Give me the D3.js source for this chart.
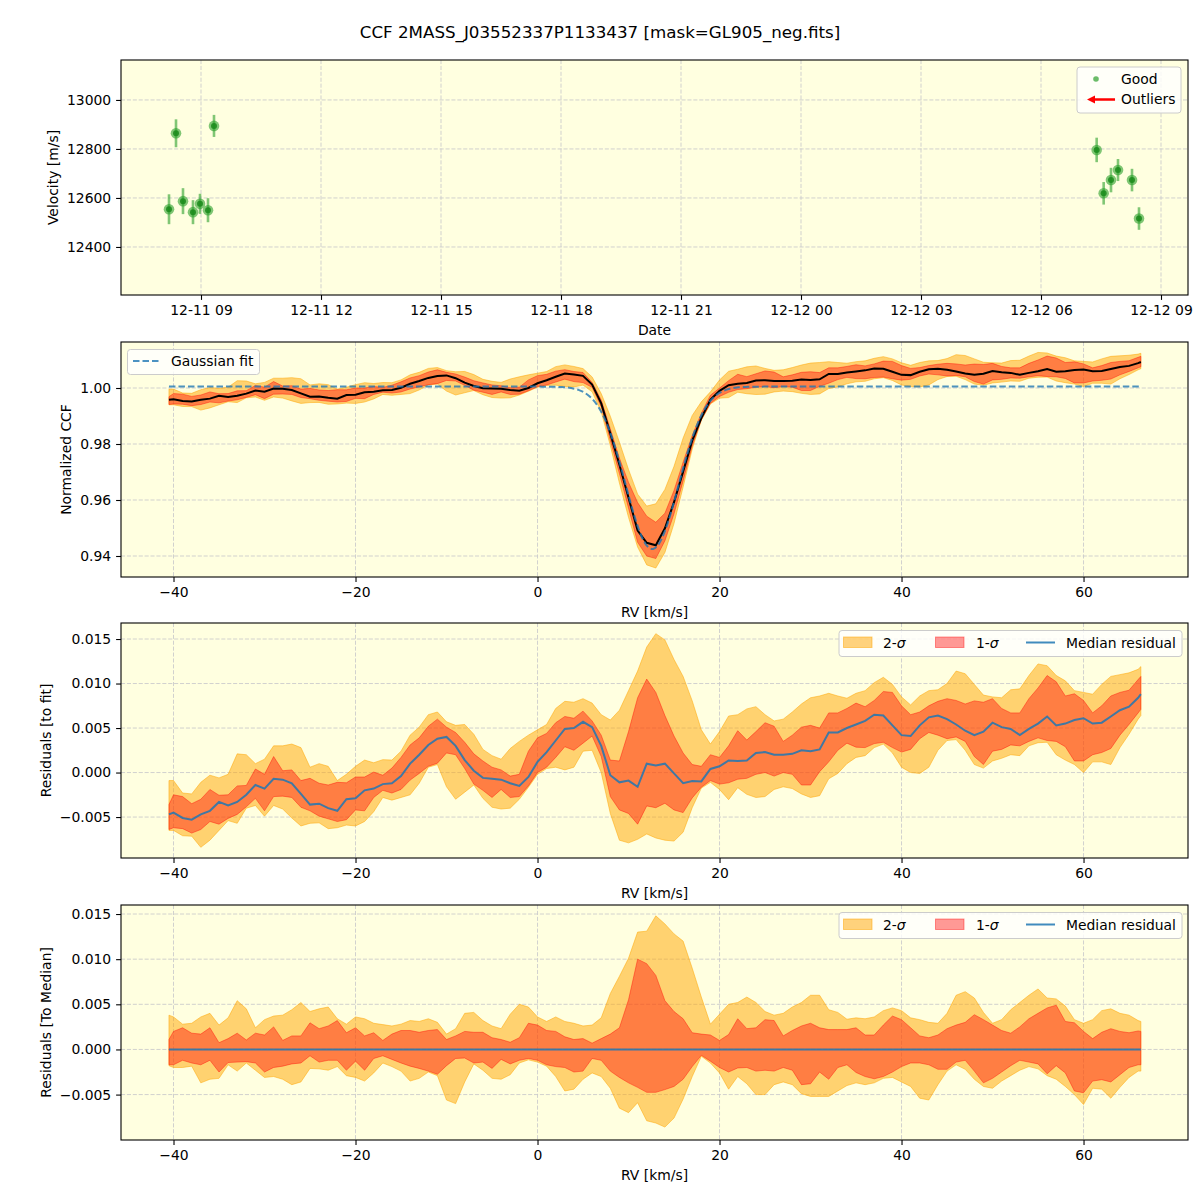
<!DOCTYPE html>
<html><head><meta charset="utf-8">
<script src="https://cdn.jsdelivr.net/npm/d3@7"></script>
<style>body{margin:0;background:#fff}svg text{font-family:"DejaVu Sans",Verdana,sans-serif}</style>
</head><body>
<svg id="c" width="1200" height="1200"></svg>
<script>
// ---------- DATA ----------
const chartTitle = "CCF 2MASS_J03552337P1133437 [mask=GL905_neg.fits]";
const obsTimes = ["2019-12-11 08:12","2019-12-11 08:22:30","2019-12-11 08:33","2019-12-11 08:48","2019-12-11 08:58:30","2019-12-11 09:10:30","2019-12-11 09:19:30",
                  "2019-12-12 07:23:30","2019-12-12 07:34","2019-12-12 07:45","2019-12-12 07:55:30","2019-12-12 08:16:30","2019-12-12 08:27"];
const obsVel = [12554,12864,12587,12542,12576,12550,12894,12796,12619,12673,12714,12673,12516];
const obsErr = [61,57,53,49,41,49,45,50,46,50,45,46,46];
const dateTickLabels = ["2019-12-11 09","2019-12-11 12","2019-12-11 15","2019-12-11 18","2019-12-11 21","2019-12-12 00","2019-12-12 03","2019-12-12 06","2019-12-12 09"];
const velTicks = [12400,12600,12800,13000];

const rv = [-40.5,-40,-39,-38,-37,-36,-35,-34,-33,-32,-31,-30,-29,-28,-27,-26,-25,-24,-23,-22,-21,-20,-19,-18,-17,-16,-15,-14,-13,-12,-11,-10,-9,-8,-7,-6,-5,-4,-3,-2,-1,0,1,2,3,4,5,6,7,8,9,10,11,12,13,14,15,16,17,18,19,20,21,22,23,24,25,26,27,28,29,30,31,32,33,34,35,36,37,38,39,40,41,42,43,44,45,46,47,48,49,50,51,52,53,54,55,56,57,58,59,60,61,62,63,64,65,66,66.3];
// median residual to the Gaussian fit (units of 1e-3)
const medResid = [-4.7,-4.5,-5.1,-5.3,-4.7,-4.3,-3.3,-3.7,-3.3,-2.5,-1.4,-1.8,-0.7,-0.8,-1.2,-2.4,-3.6,-3.5,-4.0,-4.3,-3.0,-2.9,-2.0,-1.8,-1.3,-1.2,-0.4,1.0,2.0,3.1,3.8,4.0,3.0,1.4,0.2,-0.6,-0.7,-0.8,-1.2,-1.5,-0.5,1.2,2.3,3.6,4.9,5.0,5.7,5.1,3.0,-0.3,-1.1,-0.9,-1.6,1.0,0.8,1.0,-0.1,-1.2,-0.95,-1.0,0.4,0.7,1.35,1.3,1.35,2.2,2.3,2.0,2.0,2.1,2.5,2.4,2.6,4.5,4.5,5.0,5.4,5.8,6.5,6.4,5.3,4.2,4.1,5.3,6.2,6.4,6.0,5.4,4.7,4.2,4.6,5.6,5.1,4.9,4.2,4.9,5.5,6.3,5.3,5.5,5.9,6.1,5.5,5.6,6.3,7.0,7.4,8.4,8.8];
// percentile bands relative to the median (units of 1e-3)
const hi2 = [3.8,3.6,2.8,2.9,3.6,4.0,2.7,3.5,5.4,4.5,2.4,3.3,3.7,3.8,4.4,5.2,4.2,4.5,4.7,3.4,2.8,3.6,3.4,2.9,2.75,2.6,2.8,3.2,3.1,3.4,3.0,1.7,2.3,4.0,4.1,3.2,2.6,2.3,3.9,5.0,4.7,3.6,3.1,3.6,3.1,2.9,2.6,2.7,3.5,6.2,8.1,10.1,13.0,13.1,14.8,13.9,12.8,12.0,9.0,5.8,2.8,3.9,5.0,5.2,5.8,5.2,4.2,3.8,4.0,4.7,5.2,6.0,6.0,4.4,4.1,3.35,3.5,3.4,3.6,4.3,4.6,4.3,3.5,3.3,3.0,2.9,4.0,6.0,6.4,5.7,4.1,2.9,3.3,4.4,5.2,6.0,6.7,5.7,5.6,4.8,3.3,2.9,3.3,4.3,4.5,4.0,3.8,3.2,3.1];
const hi1 = [1.1,2.0,2.4,1.8,1.7,2.4,0.75,1.2,1.8,1.05,1.8,1.6,2.5,1.0,1.5,1.5,2.95,2.3,2.6,3.2,1.85,2.4,1.5,1.85,1.0,1.7,2.1,2.1,1.9,2.1,2.2,1.1,1.5,2.0,1.9,1.9,1.3,1.1,0.8,1.3,2.9,2.7,2.1,2.0,1.4,1.1,1.2,0.7,1.2,1.7,2.4,5.5,10.0,9.5,8.2,5.4,4.2,3.4,1.85,1.7,1.6,1.0,1.65,3.4,2.3,2.4,3.3,3.2,1.5,2.1,2.6,2.9,2.4,2.2,2.2,2.2,2.4,1.6,1.6,2.7,3.7,3.3,2.4,1.5,1.3,1.6,2.3,2.7,3.0,3.85,3.3,2.7,2.1,1.8,2.5,3.4,4.0,4.6,4.9,3.1,2.95,2.0,1.2,1.9,2.3,2.0,1.85,2.05,2.0];
const lo1 = [-1.7,-1.7,-1.2,-1.5,-1.7,-1.2,-2.5,-1.45,-1.4,-1.35,-1.5,-2.5,-2.0,-1.85,-1.6,-1.5,-0.7,-1.4,-1.2,-1.2,-2.3,-1.3,-2.3,-1.0,-0.7,-1.1,-1.5,-1.85,-2.1,-2.4,-2.75,-1.8,-1.0,-0.95,-1.5,-1.4,-2.1,-1.1,-1.6,-1.2,-1.0,-1.2,-1.7,-1.9,-2.0,-2.5,-2.4,-1.0,-1.2,-2.4,-3.1,-3.7,-4.2,-4.75,-4.75,-4.45,-4.1,-3.3,-1.9,-0.65,-1.3,-2.0,-2.5,-2.05,-2.0,-2.4,-2.3,-2.4,-2.0,-2.3,-3.9,-3.8,-2.5,-3.3,-2.0,-1.7,-2.55,-3.0,-3.25,-3.0,-2.5,-1.9,-1.5,-1.5,-1.7,-2.2,-2.2,-1.4,-1.2,-2.4,-3.7,-3.2,-2.5,-1.8,-1.2,-1.4,-1.6,-2.7,-1.8,-2.6,-4.6,-4.8,-3.5,-3.35,-3.6,-2.8,-2.0,-1.7,-1.7];
const lo2 = [-1.8,-2.0,-2.0,-1.85,-3.7,-3.3,-3.2,-1.7,-2.4,-1.5,-2.3,-3.1,-3.0,-3.3,-3.9,-3.6,-2.1,-2.15,-2.3,-1.9,-2.9,-3.1,-3.5,-2.6,-1.5,-1.9,-2.4,-3.5,-3.2,-2.5,-2.9,-5.6,-6.0,-3.6,-1.6,-2.3,-3.2,-3.3,-2.8,-1.5,-1.15,-1.4,-1.85,-3.0,-4.6,-4.4,-3.3,-2.6,-3.0,-4.3,-6.5,-7.0,-5.9,-7.9,-8.15,-8.6,-7.6,-5.5,-3.0,-0.75,-1.5,-2.6,-4.4,-3.0,-3.8,-5.0,-5.0,-3.9,-3.6,-3.9,-4.9,-5.2,-5.2,-5.2,-4.6,-4.0,-3.7,-3.9,-3.7,-3.2,-3.1,-3.6,-4.1,-5.4,-5.6,-3.9,-2.4,-1.7,-2.2,-3.3,-4.1,-4.3,-3.5,-2.9,-2.3,-1.9,-2.15,-2.9,-3.3,-4.1,-5.0,-6.1,-4.3,-4.4,-5.4,-4.2,-3.1,-2.4,-2.4];
// Gaussian fit parameters
const fitBaseline = 1.0005, fitDepth = 0.058, fitCenter = 12.6, fitSigma = 2.9;
const rvTicks = [-40,-20,0,20,40,60];
const ccfTicks = [0.94,0.96,0.98,1.00];
const residTicks = [-0.005,0,0.005,0.010,0.015];

// ---------- LAYOUT ----------
const svg = d3.select("#c");
const L = 121, R = 1188;
const BG = "#ffffe0";
const FS = 13.9;
const TICK = 4.9;
svg.append("rect").attr("width",1200).attr("height",1200).attr("fill","#fff");
svg.append("text").attr("x",600).attr("y",38).attr("text-anchor","middle").attr("font-size",16.7).text(chartTitle);

function gauss(v){ return fitBaseline - fitDepth*Math.exp(-((v-fitCenter)**2)/(2*fitSigma*fitSigma)); }

function panelBase(id, top, bottom, x, y, xTicks, yTicks, xFmt, yFmt, xLabel, yLabel, yLabelX){
  const g = svg.append("g");
  g.append("rect").attr("x",L).attr("y",top).attr("width",R-L).attr("height",bottom-top).attr("fill",BG);
  g.append("clipPath").attr("id","clip"+id).append("rect").attr("x",L).attr("y",top).attr("width",R-L).attr("height",bottom-top);
  const grid = g.append("g").attr("stroke","#cccccc").attr("stroke-width",0.9).attr("stroke-dasharray","4.1,1.8");
  xTicks.forEach(t=>grid.append("line").attr("x1",x(t)).attr("x2",x(t)).attr("y1",top).attr("y2",bottom));
  yTicks.forEach(t=>grid.append("line").attr("x1",L).attr("x2",R).attr("y1",y(t)).attr("y2",y(t)));
  const content = g.append("g").attr("clip-path","url(#clip"+id+")");
  const ax = g.append("g").attr("transform",`translate(0,${bottom})`)
    .call(d3.axisBottom(x).tickValues(xTicks).tickFormat(xFmt).tickSize(TICK).tickPadding(4.9));
  const ay = g.append("g").attr("transform",`translate(${L},0)`)
    .call(d3.axisLeft(y).tickValues(yTicks).tickFormat(yFmt).tickSize(TICK).tickPadding(4.9));
  [ax,ay].forEach(a=>{a.select(".domain").remove();a.attr("font-size",FS).attr("font-family",null);
    a.selectAll("line").attr("stroke","#000").attr("stroke-width",1.1);a.selectAll("text").attr("fill","#000");});
  g.append("text").attr("x",(L+R)/2).attr("y",bottom+40).attr("text-anchor","middle").attr("font-size",FS).text(xLabel);
  g.append("text").attr("transform",`translate(${yLabelX},${(top+bottom)/2}) rotate(-90)`).attr("dy","0.35em")
    .attr("text-anchor","middle").attr("font-size",FS).text(yLabel);
  return {g, content, frame:()=>g.append("rect").attr("x",L).attr("y",top).attr("width",R-L).attr("height",bottom-top)
    .attr("fill","none").attr("stroke","#000").attr("stroke-width",1.1)};
}

function legendBox(g,x,y,w,h){
  g.append("rect").attr("x",x).attr("y",y).attr("width",w).attr("height",h).attr("rx",3)
   .attr("fill","#fff").attr("fill-opacity",0.8).attr("stroke","#cccccc").attr("stroke-width",1);
}

// ---------- PANEL 1 ----------
(function(){
  const parse = d3.timeParse("%Y-%m-%d %H:%M");
  const parse2 = d3.timeParse("%Y-%m-%d %H:%M:%S");
  const tp = s => parse(s) || parse2(s);
  const tickParse = d3.timeParse("%Y-%m-%d %H");
  const times = obsTimes.map(tp);
  const x = d3.scaleTime().domain([new Date(2019,11,11,7,0,0), new Date(2019,11,12,9,40,30)]).range([L,R]);
  const y = d3.scaleLinear().domain([12204,13163]).range([295,60]);
  const ticks = dateTickLabels.map(tickParse);
  const p = panelBase(1,60,295,x,y,ticks,velTicks,d3.timeFormat("%m-%d %H"),d3.format("d"),"Date","Velocity [m/s]",53);
  const c = p.content;
  const green = "#2ca02c";
  times.forEach((t,i)=>{
    c.append("line").attr("x1",x(t)).attr("x2",x(t)).attr("y1",y(obsVel[i]-obsErr[i])).attr("y2",y(obsVel[i]+obsErr[i]))
      .attr("stroke",green).attr("stroke-opacity",0.6).attr("stroke-width",2.6);
    c.append("circle").attr("cx",x(t)).attr("cy",y(obsVel[i])).attr("r",5.3).attr("fill",green).attr("fill-opacity",0.6);
    c.append("circle").attr("cx",x(t)).attr("cy",y(obsVel[i])).attr("r",3).attr("fill","#1a8a1a").attr("fill-opacity",0.85);
  });
  p.frame();
  const lg = p.g.append("g");
  legendBox(lg,1077,67,104,46);
  lg.append("circle").attr("cx",1096).attr("cy",79).attr("r",2.8).attr("fill",green).attr("fill-opacity",0.7);
  lg.append("text").attr("x",1121).attr("y",84).attr("font-size",FS).text("Good");
  lg.append("line").attr("x1",1115).attr("x2",1093).attr("y1",99.5).attr("y2",99.5).attr("stroke","red").attr("stroke-width",2.5);
  lg.append("path").attr("d","M1087,99.5 L1095,95.5 L1095,103.5 Z").attr("fill","red");
  lg.append("text").attr("x",1121).attr("y",104).attr("font-size",FS).text("Outliers");
})();

// ---------- RV panels ----------
const xRV = d3.scaleLinear().domain([-45.77,71.48]).range([L,R]);
const c2 = "rgba(255,165,0,0.5)", c1 = "rgba(255,0,0,0.4)";
const lineBlue = "#1f77b4";

function bands(c, y, base){
  const a = (lo,hi)=>d3.area().x((d,i)=>xRV(rv[i])).y0((d,i)=>y(base(i)+lo[i]*1e-3)).y1((d,i)=>y(base(i)+hi[i]*1e-3));
  c.append("path").datum(rv).attr("d",a(lo2,hi2)).attr("fill",c2).attr("stroke",c2).attr("stroke-width",1);
  c.append("path").datum(rv).attr("d",a(lo1,hi1)).attr("fill",c1).attr("stroke",c1).attr("stroke-width",1);
}

function bandLegend(g, top){
  legendBox(g,839,top,343,26);
  g.append("rect").attr("x",843.5).attr("y",top+6.5).attr("width",28.5).attr("height",10.5).attr("fill",c2).attr("stroke",c2);
  g.append("text").attr("x",883).attr("y",top+17).attr("font-size",FS).html('2-<tspan font-style="italic">σ</tspan>');
  g.append("rect").attr("x",935.5).attr("y",top+6.5).attr("width",28.5).attr("height",10.5).attr("fill",c1).attr("stroke",c1);
  g.append("text").attr("x",976).attr("y",top+17).attr("font-size",FS).html('1-<tspan font-style="italic">σ</tspan>');
  g.append("line").attr("x1",1026).attr("x2",1055).attr("y1",top+12).attr("y2",top+12).attr("stroke",lineBlue).attr("stroke-opacity",0.85).attr("stroke-width",2);
  g.append("text").attr("x",1066).attr("y",top+17).attr("font-size",FS).text("Median residual");
}

// Panel 2
(function(){
  const y = d3.scaleLinear().domain([0.9325,1.01643]).range([577,342]);
  const p = panelBase(2,342,577,xRV,y,rvTicks,ccfTicks,d3.format("d"),d3.format(".2f"),"RV [km/s]","Normalized CCF",66);
  const base = i => gauss(rv[i]) + medResid[i]*1e-3;
  bands(p.content,y,base);
  p.content.append("path").datum(rv).attr("d",d3.line().x((d,i)=>xRV(rv[i])).y((d,i)=>y(base(i))))
    .attr("fill","none").attr("stroke","#000").attr("stroke-width",2);
  const fine = d3.range(rv[0], rv[rv.length-1]+0.001, 0.2);
  p.content.append("path").datum(fine).attr("d",d3.line().x(v=>xRV(v)).y(v=>y(gauss(v))))
    .attr("fill","none").attr("stroke",lineBlue).attr("stroke-opacity",0.8).attr("stroke-width",2).attr("stroke-dasharray","6.5,3");
  p.frame();
  const lg = p.g.append("g");
  legendBox(lg,127.5,349.5,132,25);
  lg.append("line").attr("x1",133).attr("x2",161).attr("y1",361).attr("y2",361).attr("stroke",lineBlue).attr("stroke-opacity",0.8).attr("stroke-width",2).attr("stroke-dasharray","6.5,3");
  lg.append("text").attr("x",171).attr("y",366).attr("font-size",FS).text("Gaussian fit");
})();

// Panel 3
(function(){
  const y = d3.scaleLinear().domain([-0.0096,0.0168]).range([858,623]);
  const p = panelBase(3,623,858,xRV,y,rvTicks,residTicks,d3.format("d"),d3.format(".3f"),"RV [km/s]","Residuals [to fit]",46);
  const base = i => medResid[i]*1e-3;
  bands(p.content,y,base);
  p.content.append("path").datum(rv).attr("d",d3.line().x((d,i)=>xRV(rv[i])).y((d,i)=>y(base(i))))
    .attr("fill","none").attr("stroke",lineBlue).attr("stroke-opacity",0.85).attr("stroke-width",2);
  p.frame();
  bandLegend(p.g.append("g"),630.5);
})();

// Panel 4
(function(){
  const y = d3.scaleLinear().domain([-0.01003,0.016]).range([1140,905]);
  const p = panelBase(4,905,1140,xRV,y,rvTicks,residTicks,d3.format("d"),d3.format(".3f"),"RV [km/s]","Residuals [To Median]",46);
  const base = i => 0;
  bands(p.content,y,base);
  p.content.append("path").datum(rv).attr("d",d3.line().x((d,i)=>xRV(rv[i])).y(()=>y(0)))
    .attr("fill","none").attr("stroke",lineBlue).attr("stroke-opacity",0.85).attr("stroke-width",2);
  p.frame();
  bandLegend(p.g.append("g"),912.5);
})();
</script>
</body></html>
